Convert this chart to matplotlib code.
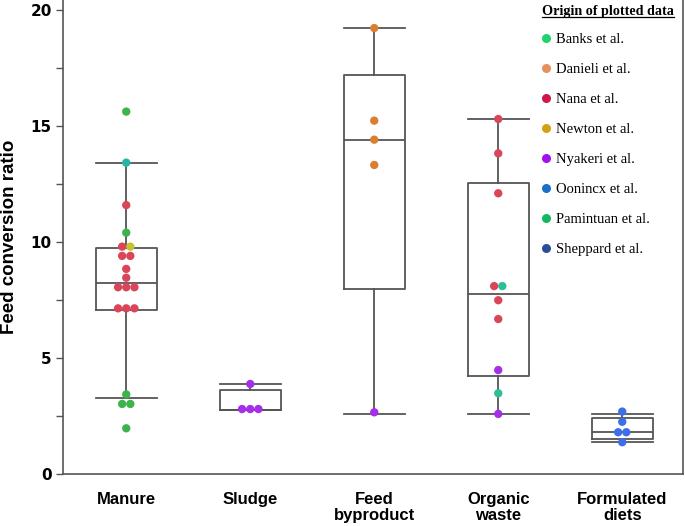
import matplotlib
matplotlib.use('Agg')
import matplotlib.pyplot as plt
from matplotlib.lines import Line2D
import numpy as np

# categories on the x axis
categories = ['Manure', 'Sludge', 'Feed\nbyproduct', 'Organic\nwaste', 'Formulated\ndiets']

# individual FCR values and their source study, per category
manure_vals = [15.62, 13.42, 11.59, 10.40, 9.80, 9.80, 9.40, 9.40, 8.84, 8.46,
               8.05, 8.05, 8.05, 7.14, 7.14, 7.14, 3.43, 3.02, 3.02, 1.97]
manure_src = ['Banks', 'Oonincx', 'Nana', 'Banks', 'Nana', 'Newton', 'Nana', 'Nana', 'Nana', 'Nana',
              'Nana', 'Nana', 'Nana', 'Nana', 'Nana', 'Nana', 'Banks', 'Banks', 'Banks', 'Banks']
sludge_vals = [3.88, 2.80, 2.80, 2.80]
sludge_src = ['Nyakeri', 'Nyakeri', 'Nyakeri', 'Nyakeri']
feed_vals = [19.22, 15.23, 14.41, 13.32, 2.66]
feed_src = ['Danieli', 'Danieli', 'Danieli', 'Danieli', 'Nyakeri']
organic_vals = [15.30, 13.82, 12.10, 8.10, 8.10, 7.49, 6.68, 4.48, 3.48, 2.59]
organic_src = ['Nana', 'Nana', 'Nana', 'Nana', 'Pamintuan', 'Nana', 'Nana', 'Nyakeri', 'Pamintuan', 'Nyakeri']
diets_vals = [2.69, 2.25, 1.80, 1.80, 1.37]
diets_src = ['Sheppard', 'Sheppard', 'Sheppard', 'Sheppard', 'Sheppard']

all_vals = [manure_vals, sludge_vals, feed_vals, organic_vals, diets_vals]
all_src = [manure_src, sludge_src, feed_src, organic_src, diets_src]

# box statistics as drawn in the original (whisker low, q1, median, q3, whisker high)
whislo = [3.28, 2.76, 2.59, 2.57, 1.38]
q1 = [7.07, 2.76, 7.99, 4.22, 1.50]
med = [8.22, 2.76, 14.40, 7.76, 1.82]
q3 = [9.73, 3.62, 17.18, 12.53, 2.40]
whishi = [13.42, 3.88, 19.22, 15.30, 2.57]

# legend
sources = ['Banks', 'Danieli', 'Nana', 'Newton', 'Nyakeri', 'Oonincx', 'Pamintuan', 'Sheppard']
point_colors = {'Banks': '#3cb44b', 'Danieli': '#d98030', 'Nana': '#d9465a', 'Newton': '#c9c42c',
                'Nyakeri': '#a52ee8', 'Oonincx': '#26b5a5', 'Pamintuan': '#2cbf96', 'Sheppard': '#3d6fe6'}
legend_colors = ['#1ed36b', '#e8905a', '#d0164a', '#d4a010', '#a010f0', '#1a70c8', '#10b860', '#2a4f98']

fig = plt.figure(figsize=(6.85, 5.26), dpi=100)
ax = fig.add_axes([63 / 685, 52 / 526, 620 / 685, 474 / 526])

positions = np.arange(len(categories))
stats = []
for i in range(len(categories)):
    stats.append({'whislo': whislo[i], 'q1': q1[i], 'med': med[i], 'q3': q3[i],
                  'whishi': whishi[i], 'fliers': []})
box_w = 0.49
line_kw = dict(color='#555555', linewidth=1.3)
ax.bxp(stats, positions=positions, widths=box_w, showfliers=False,
       boxprops=line_kw, whiskerprops=line_kw, capprops=line_kw,
       medianprops=line_kw, capwidths=box_w, manage_ticks=False)

# spread points with equal values side by side (swarm-like)
step = 0.066
for i, (vals, srcs) in enumerate(zip(all_vals, all_src)):
    vals = np.array(vals)
    xs = np.zeros(len(vals))
    for v in np.unique(vals):
        idx = np.where(vals == v)[0]
        n = len(idx)
        xs[idx] = (np.arange(n) - (n - 1) / 2) * step
    cols = [point_colors[s] for s in srcs]
    ax.scatter(positions[i] + xs, vals, s=36, c=cols, zorder=3, linewidths=0)

ax.set_xlim(-0.51, 4.49)
ax.set_ylim(0, 20.43)
ax.set_xticks(positions)
ax.set_xticklabels(categories, fontsize=12, fontweight='bold',
                   family='Liberation Sans', linespacing=1.1)
ax.tick_params(axis='x', length=0, pad=13)
ax.set_yticks([0, 5, 10, 15, 20])
ax.set_yticks([2.5, 7.5, 12.5, 17.5], minor=True)
ax.tick_params(axis='y', which='both', direction='out', length=5, width=1, color='#555555', pad=3)
for lab in ax.get_yticklabels():
    lab.set_fontweight('bold')
    lab.set_fontsize(11)
ax.set_ylabel('Feed conversion ratio', fontsize=13.5, fontweight='bold',
              family='Liberation Sans', va='center')
ax.yaxis.set_label_coords(-0.086, 0.5)
ax.spines['top'].set_visible(False)
for s in ['left', 'bottom', 'right']:
    ax.spines[s].set_color('#555555')
    ax.spines[s].set_linewidth(1.2)

# legend box, serif text like the original
handles = [Line2D([], [], marker='o', linestyle='', markersize=6.5, markerfacecolor=c,
                  markeredgewidth=0) for c in legend_colors]
labels = [s + ' et al.' for s in sources]
leg = ax.legend(handles, labels, loc='upper left', bbox_to_anchor=(0.744, 0.958),
                frameon=False, handletextpad=0.1, handlelength=1.2, labelspacing=1.15,
                prop={'family': 'Liberation Serif', 'size': 10.5})

title = fig.text(608 / 685, 1 - 12 / 526, 'Origin of plotted data', ha='center', va='center',
                 family='Liberation Serif', fontweight='bold', fontsize=10.2)
fig.canvas.draw()
bb = title.get_window_extent().transformed(fig.transFigure.inverted())
fig.add_artist(Line2D([bb.x0, bb.x1], [bb.y0 + 0.002, bb.y0 + 0.002], color='black', linewidth=0.9))

fig.savefig('out.png', dpi=100)
